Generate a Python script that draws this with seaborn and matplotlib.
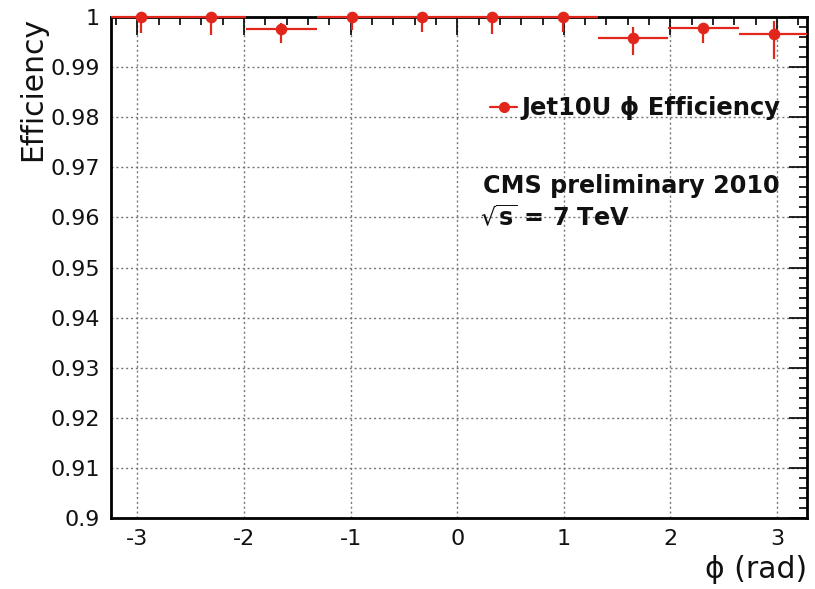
import numpy as np
import pandas as pd
import seaborn as sns
import matplotlib.pyplot as plt
from matplotlib.lines import Line2D
from matplotlib.ticker import MultipleLocator
from matplotlib.transforms import Bbox, TransformedBbox

# bin centres (rad) and trigger efficiency
phi = [-2.97, -2.31, -1.65, -0.99, -0.33, 0.33, 0.99, 1.65, 2.31, 2.97]
eff = [1.0, 1.0, 0.9977, 1.0, 1.0, 1.0, 1.0, 0.9959, 0.9979, 0.9966]
err_lo = [0.0032, 0.0035, 0.0029, 0.0026, 0.0030, 0.0033, 0.0030, 0.0035, 0.0031, 0.0050]
err_hi = [0.0, 0.0, 0.0011, 0.0, 0.0, 0.0, 0.0, 0.0022, 0.0006, 0.0026]
bin_half = [0.33] * 10

df = pd.DataFrame({'phi': phi, 'eff': eff})

sns.set_theme(style="white")
plt.rcParams['font.family'] = ['DejaVu Sans']
plt.rcParams['mathtext.fontset'] = 'dejavusans'
plt.rcParams['axes.unicode_minus'] = False
plt.rcParams['text.color'] = '#111111'

red = '#e3261c'

fig = plt.figure(figsize=(8.15, 5.89), dpi=100)
ax = fig.add_axes([0.136, 0.1205, 0.854, 0.8505])

eb = ax.errorbar(df['phi'], df['eff'], xerr=bin_half, yerr=[err_lo, err_hi],
                 fmt='none', ecolor=red, elinewidth=1.6, capsize=0, zorder=6)
# clip the bars at the left/right frame but let them sit on the top edge
clip = TransformedBbox(Bbox([[0, -0.05], [1, 1.05]]), ax.transAxes)
for coll in eb.lines[2]:
    coll.set_clip_box(clip)

sns.scatterplot(data=df, x='phi', y='eff', color=red, s=70, edgecolor=red,
                linewidth=0, ax=ax, zorder=7, clip_on=False, legend=False)

ax.set_xlim(-3.25, 3.28)
ax.set_ylim(0.9, 1.0)

ax.xaxis.set_major_locator(MultipleLocator(1))
ax.xaxis.set_minor_locator(MultipleLocator(0.2))
ax.yaxis.set_minor_locator(MultipleLocator(0.002))
ax.set_yticks(np.arange(0.9, 1.0001, 0.01))
ax.set_yticklabels(['0.9', '0.91', '0.92', '0.93', '0.94', '0.95', '0.96',
                    '0.97', '0.98', '0.99', '1'])

ax.tick_params(which='both', direction='in', top=True, right=True, colors='black',
               labelsize=16, width=1.2)
ax.tick_params(which='major', length=13, pad=8)
ax.tick_params(which='minor', length=6)
for lab in ax.get_xticklabels() + ax.get_yticklabels():
    lab.set_color('#111111')

for s in ax.spines.values():
    s.set_color('black')
    s.set_linewidth(2)

ax.grid(True, which='major', linestyle=(0, (1.5, 2)), color='#777777', linewidth=1)
ax.set_axisbelow(True)

ax.set_ylabel('Efficiency', fontsize=21.5, loc='top', labelpad=2, color='#111111')
ax.set_xlabel('ϕ (rad)', fontsize=21.5, loc='right', labelpad=4, color='#111111')

handle = Line2D([], [], color=red, marker='o', markersize=7, linewidth=1.6)
leg = ax.legend([handle], ['Jet10U ϕ Efficiency'], loc='center left',
                bbox_to_anchor=(0.545, 0.818), borderaxespad=0, borderpad=0,
                frameon=False, handlelength=1.1, handletextpad=0.2,
                prop={'size': 17.5, 'weight': 'bold'})
for t in leg.get_texts():
    t.set_color('#111111')

ax.text(0.534, 0.663, 'CMS preliminary 2010', transform=ax.transAxes,
        fontsize=17.2, fontweight='bold', va='center', ha='left')
ax.text(0.530, 0.599, r'$\sqrt{\mathbf{s}}$ = 7 TeV', transform=ax.transAxes,
        fontsize=17.2, fontweight='bold', va='center', ha='left')

fig.savefig('out.png', dpi=100)
